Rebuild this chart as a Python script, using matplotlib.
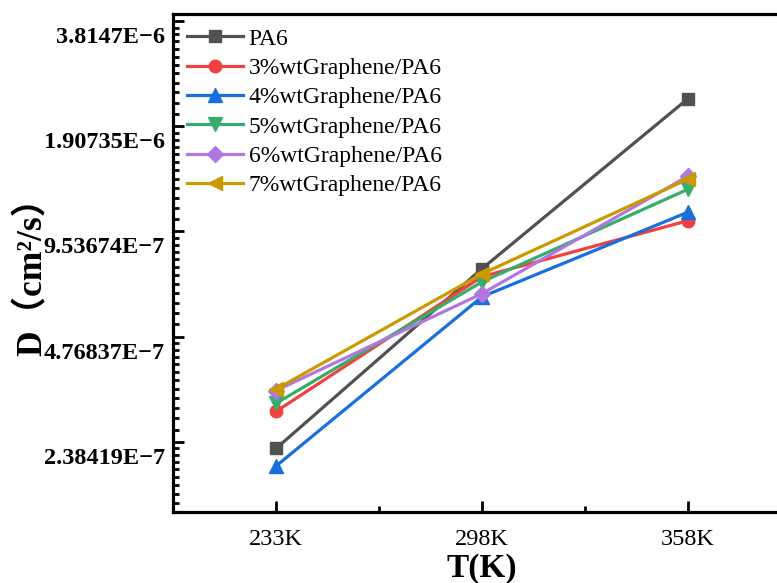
import numpy as np
import matplotlib.pyplot as plt
import matplotlib.transforms as mtransforms
from matplotlib.ticker import LogLocator, FixedLocator, FixedFormatter, NullFormatter

temps = ['233K', '298K', '358K']
series = ['PA6', '3%wtGraphene/PA6', '4%wtGraphene/PA6',
          '5%wtGraphene/PA6', '6%wtGraphene/PA6', '7%wtGraphene/PA6']
pa6 = [2.28e-7, 7.46e-7, 2.29e-6]
g3 = [2.91e-7, 7.08e-7, 1.024e-6]
g4 = [2.03e-7, 6.20e-7, 1.083e-6]
g5 = [3.07e-7, 6.84e-7, 1.26e-6]
g6 = [3.34e-7, 6.33e-7, 1.373e-6]
g7 = [3.37e-7, 7.21e-7, 1.347e-6]

ytick_vals = [2.0 ** -22, 2.0 ** -21, 2.0 ** -20, 2.0 ** -19, 2.0 ** -18]
ytick_labels = ['2.38419E\u22127', '4.76837E\u22127', '9.53674E\u22127',
                '1.90735E\u22126', '3.8147E\u22126']

colors = ['#515151', '#F14040', '#1A6FDF', '#37AD6B', '#B177DE', '#CC9900']
markers = ['s', 'o', '^', 'v', 'D', '<']
msizes = [8, 9, 9.5, 9.5, 8, 9.5]

serif = ['Liberation Serif', 'DejaVu Serif']
plt.rcParams['font.family'] = serif

fig = plt.figure(figsize=(7.77, 5.83), dpi=100)
ax = fig.add_axes([173 / 777, 1 - 512 / 583, (791 - 173) / 777, (512 - 14) / 583])

x = np.arange(len(temps))
for vals, name, c, m, ms in zip([pa6, g3, g4, g5, g6, g7], series, colors, markers, msizes):
    ax.plot(x, vals, color=c, marker=m, markersize=ms, linewidth=2.3, label=name)

ax.set_yscale('log', base=2)
ax.set_ylim(1.5e-7, 4.0e-6)
ax.set_xlim(-0.5, 2.5)

ax.yaxis.set_major_locator(FixedLocator(ytick_vals))
ax.yaxis.set_major_formatter(FixedFormatter(ytick_labels))
ax.yaxis.set_minor_locator(LogLocator(base=2, subs=1 + np.arange(1, 12) / 12, numticks=50))
ax.yaxis.set_minor_formatter(NullFormatter())

ax.set_xticks(x)
ax.set_xticklabels(temps)
ax.set_xticks([0.5, 1.5], minor=True)

for side in ['left', 'top', 'bottom', 'right']:
    ax.spines[side].set_linewidth(2.3)

ax.tick_params(axis='both', which='major', direction='in', length=8, width=2, pad=8)
ax.tick_params(axis='both', which='minor', direction='in', length=4.5, width=2)
ax.tick_params(axis='x', which='major', labelsize=17.5, pad=12)
ax.tick_params(axis='y', which='major', labelsize=17.5, pad=6)

# y tick labels sit a little below their ticks
shift = mtransforms.ScaledTranslation(0, -0.14, fig.dpi_scale_trans)
for lbl in ax.get_yticklabels():
    lbl.set_fontweight('bold')
    lbl.set_transform(lbl.get_transform() + shift)

ax.set_xlabel('T(K)', fontsize=24, fontweight='bold')
ax.xaxis.set_label_coords(0.5, -0.082)
ax.set_ylabel('D（cm²/s）', fontsize=25.5, fontweight='bold',
              family=['Liberation Serif', 'Noto Sans CJK SC'])
ax.yaxis.set_label_coords(-0.199, 0.49)

leg = ax.legend(loc='upper left', frameon=False, fontsize=17,
                handlelength=2.35, handletextpad=0.25, labelspacing=0.33,
                borderaxespad=0.2, bbox_to_anchor=(0.0, 1.0))

fig.savefig('out.png', dpi=100)
